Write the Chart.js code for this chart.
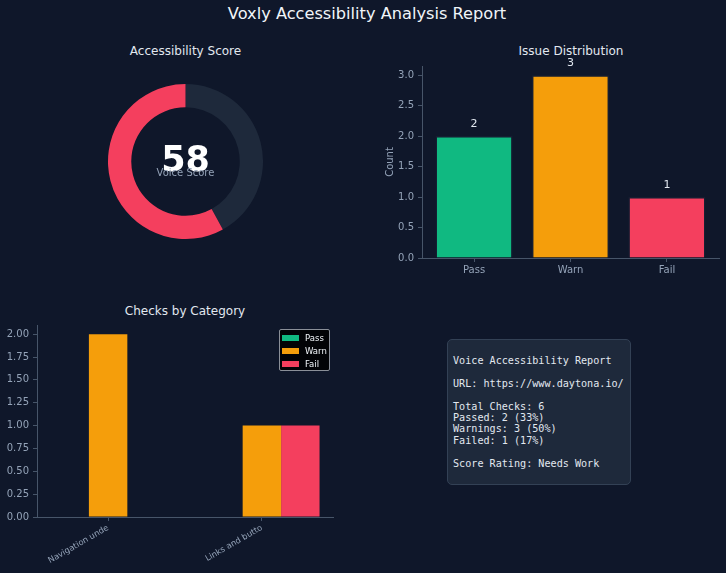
<!DOCTYPE html>
<html>
<head>
<meta charset="utf-8">
<title>Voxly Accessibility Analysis Report</title>
<script src="https://cdn.jsdelivr.net/npm/chart.js@4.4.0/dist/chart.umd.min.js"></script>
<style>
    body {
        margin: 0;
        width: 726px;
        height: 573px;
        overflow: hidden;
        position: relative;
        background: #0f172a;
        font-family: "DejaVu Sans", sans-serif;
    }
    canvas { position: absolute; }
    .title {
        position: absolute;
        transform: translateX(-50%);
        white-space: nowrap;
        color: #f1f5f9;
    }
    #main-title { left: 367px; top: 4px; font-size: 16.2px; line-height: 20px; }
    .sub-title { font-size: 12px; line-height: 16px; color: #e2e8f0; }
    #legend {
        position: absolute;
        left: 279px; top: 329px;
        width: 51px; height: 42px;
        box-sizing: border-box;
        background: rgba(0, 0, 0, 0.85);
        border: 1px solid #8a8f98;
        border-radius: 2px;
        padding: 2px 0 0 2px;
    }
    .legend-row { display: flex; align-items: center; height: 12.7px; }
    .legend-row span.patch { width: 17px; height: 6px; margin-right: 6px; }
    .legend-row span.label { font-size: 8.5px; color: #f1f5f9; }
    #report {
        position: absolute;
        left: 447px; top: 339px;
        width: 184px; height: 146px;
        box-sizing: border-box;
        background: #1e293b;
        border: 1px solid #334155;
        border-radius: 5px;
        padding: 15px 0 0 5px;
    }
    #report pre {
        margin: 0;
        font-family: "DejaVu Sans Mono", monospace;
        font-size: 10.15px;
        line-height: 11.4px;
        color: #e2e8f0;
    }
</style>
</head>
<body>

<div class="title" id="main-title">Voxly Accessibility Analysis Report</div>
<div class="title sub-title" style="left:185.5px; top:43px;">Accessibility Score</div>
<div class="title sub-title" style="left:571px; top:43px;">Issue Distribution</div>
<div class="title sub-title" style="left:185px; top:303px;">Checks by Category</div>

<canvas id="scoreChart" width="155" height="155" style="left:108px; top:84px;"></canvas>
<canvas id="issueChart" width="356" height="250" style="left:370px; top:40px;"></canvas>
<canvas id="categoryChart" width="345" height="258" style="left:0px; top:315px;"></canvas>
<div id="legend"></div>
<div id="report"><pre id="report-text"></pre></div>

<script>
// --- data ---
const scoreValue = 58;
const scoreMax = 100;
const scoreLabel = 'Voice Score';

const statusLabels = ['Pass', 'Warn', 'Fail'];
const statusColors = ['#10b981', '#f59e0b', '#f43f5e'];
const issueCounts = [2, 3, 1];
const issueTicks = [0, 0.5, 1, 1.5, 2, 2.5, 3];

const categoryLabels = ['Navigation unde', 'Links and butto'];
const passByCategory = [0, 0];
const warnByCategory = [2, 1];
const failByCategory = [0, 1];
const categoryTicks = [0, 0.25, 0.5, 0.75, 1, 1.25, 1.5, 1.75, 2];

const reportLines = [
    'Voice Accessibility Report',
    '',
    'URL: https://www.daytona.io/',
    '',
    'Total Checks: 6',
    'Passed: 2 (33%)',
    'Warnings: 3 (50%)',
    'Failed: 1 (17%)',
    '',
    'Score Rating: Needs Work'
];

// --- shared look ---
Chart.defaults.font.family = '"DejaVu Sans", sans-serif';
Chart.defaults.color = '#94a3b8';
Chart.defaults.animation = false;
Chart.defaults.plugins.legend.display = false;
Chart.defaults.plugins.tooltip.enabled = false;

const spineColor = '#475569';
const tickFont = { size: 10 };

function axisStyle() {
    return {
        offset: false,
        grid: { offset: false, drawOnChartArea: false, drawTicks: true, tickLength: 4, color: spineColor },
        border: { display: true, color: spineColor, width: 1 }
    };
}

// 1. Score doughnut
const centerText = {
    id: 'centerText',
    afterDraw(chart) {
        const { ctx, chartArea } = chart;
        const cx = (chartArea.left + chartArea.right) / 2;
        const cy = (chartArea.top + chartArea.bottom) / 2;
        ctx.save();
        ctx.textAlign = 'center';
        ctx.fillStyle = '#ffffff';
        ctx.font = 'bold 35px "DejaVu Sans"';
        ctx.textBaseline = 'alphabetic';
        ctx.fillText(String(scoreValue), cx, cy + 9);
        ctx.fillStyle = '#94a3b8';
        ctx.font = '10px "DejaVu Sans"';
        ctx.textBaseline = 'middle';
        ctx.fillText(scoreLabel, cx, cy + 11.5);
        ctx.restore();
    }
};

new Chart(document.getElementById('scoreChart'), {
    type: 'doughnut',
    data: {
        labels: ['Remaining', 'Score'],
        datasets: [{
            data: [scoreMax - scoreValue, scoreValue],
            backgroundColor: ['#1e293b', '#f43f5e'],
            borderWidth: 0
        }]
    },
    options: {
        responsive: false,
        cutout: '70%',
        layout: { padding: 0 }
    },
    plugins: [centerText]
});

// 2. Issue distribution bars
const barValueLabels = {
    id: 'barValueLabels',
    afterDatasetsDraw(chart) {
        const { ctx } = chart;
        const meta = chart.getDatasetMeta(0);
        ctx.save();
        ctx.fillStyle = '#e2e8f0';
        ctx.font = '11px "DejaVu Sans"';
        ctx.textAlign = 'center';
        ctx.textBaseline = 'middle';
        meta.data.forEach((bar, i) => {
            ctx.fillText(String(issueCounts[i]), bar.x, bar.y - 12);
        });
        ctx.restore();
    }
};

new Chart(document.getElementById('issueChart'), {
    type: 'bar',
    data: {
        datasets: [{
            data: issueCounts.map((v, i) => ({ x: i, y: v })),
            backgroundColor: statusColors,
            borderColor: 'rgba(30, 41, 59, 0.45)',
            borderWidth: 1.5,
            barPercentage: 0.8,
            categoryPercentage: 1
        }]
    },
    options: {
        responsive: false,
        layout: { padding: { left: 14, right: 7, top: 26, bottom: 0 } },
        scales: {
            x: {
                type: 'linear',
                min: -0.54,
                max: 2.54,
                ...axisStyle(),
                afterBuildTicks: (scale) => { scale.ticks = statusLabels.map((_, i) => ({ value: i })); },
                afterFit: (scale) => { scale.height = 32; },
                ticks: { font: tickFont, padding: 2, maxRotation: 0, callback: (v) => statusLabels[v] }
            },
            y: {
                min: 0,
                max: 3.15,
                ...axisStyle(),
                afterBuildTicks: (scale) => { scale.ticks = issueTicks.map(v => ({ value: v })); },
                afterFit: (scale) => { scale.width = 38; },
                ticks: { font: tickFont, padding: 4, callback: (v) => v.toFixed(1) },
                title: { display: true, text: 'Count', font: { size: 10 }, padding: 0 }
            }
        }
    },
    plugins: [barValueLabels]
});

// 3. Checks by category, grouped
const categorySeries = [passByCategory, warnByCategory, failByCategory];

new Chart(document.getElementById('categoryChart'), {
    type: 'bar',
    data: {
        datasets: categorySeries.map((series, s) => ({
            label: statusLabels[s],
            data: series.map((v, i) => ({ x: i, y: v })),
            backgroundColor: statusColors[s],
            borderWidth: 0,
            barPercentage: 1,
            categoryPercentage: 0.75
        }))
    },
    options: {
        responsive: false,
        layout: { padding: { left: 0, right: 12, top: 10, bottom: 0 } },
        scales: {
            x: {
                type: 'linear',
                min: -0.4625,
                max: 1.4625,
                ...axisStyle(),
                afterBuildTicks: (scale) => { scale.ticks = categoryLabels.map((_, i) => ({ value: i })); },
                afterFit: (scale) => { scale.height = 56; },
                ticks: {
                    font: { size: 8.3 },
                    padding: 2,
                    autoSkip: false,
                    minRotation: 30,
                    maxRotation: 30,
                    callback: (v) => categoryLabels[v]
                }
            },
            y: {
                min: 0,
                max: 2.1,
                ...axisStyle(),
                afterBuildTicks: (scale) => { scale.ticks = categoryTicks.map(v => ({ value: v })); },
                afterFit: (scale) => { scale.width = 37; },
                ticks: { font: tickFont, padding: 4, callback: (v) => v.toFixed(2) }
            }
        }
    }
});

// legend for the grouped chart
const legendBox = document.getElementById('legend');
statusLabels.forEach((name, i) => {
    const row = document.createElement('div');
    row.className = 'legend-row';
    row.innerHTML = '<span class="patch" style="background:' + statusColors[i] + '"></span>' +
        '<span class="label">' + name + '</span>';
    legendBox.appendChild(row);
});

// 4. Text summary
document.getElementById('report-text').textContent = reportLines.join('\n');
</script>
</body>
</html>
